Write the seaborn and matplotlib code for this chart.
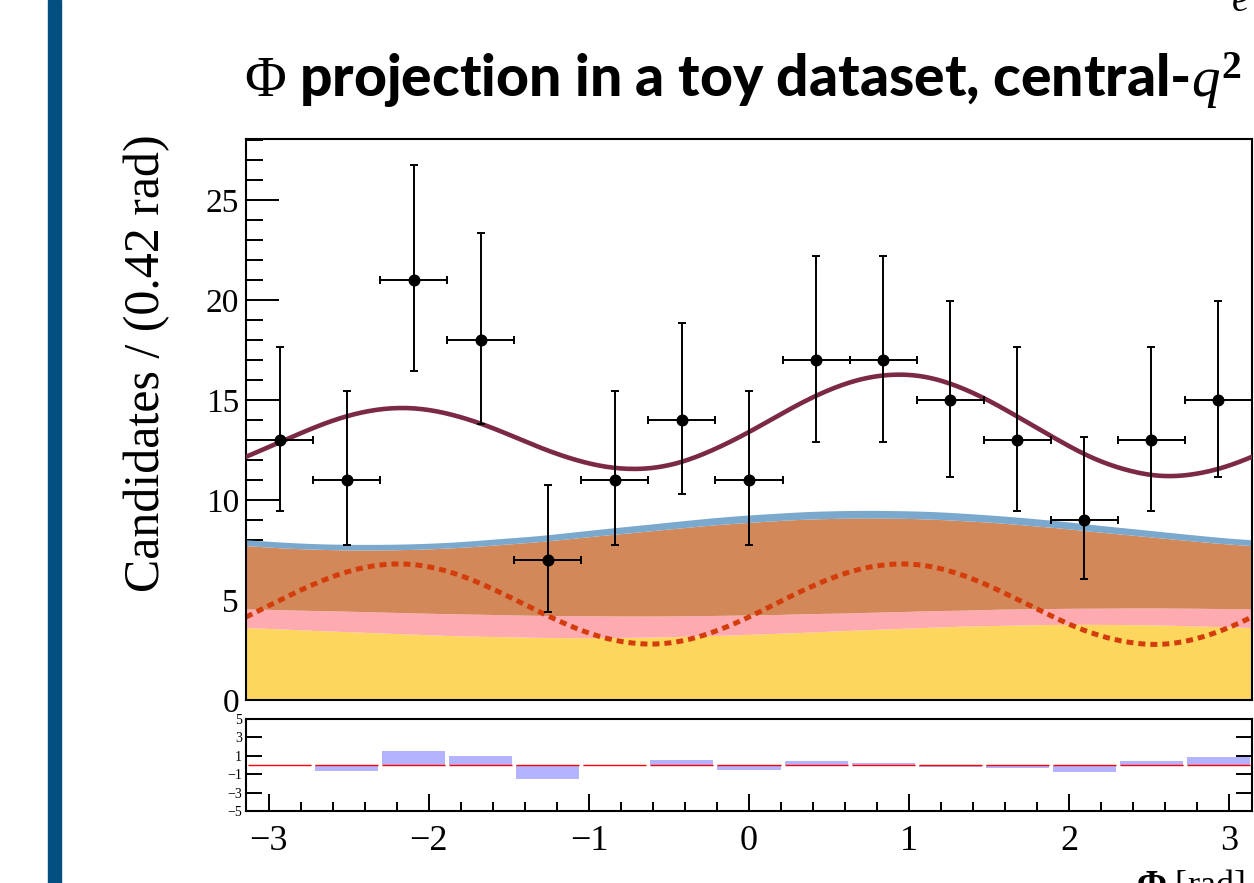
import numpy as np
import pandas as pd
import matplotlib
matplotlib.use("Agg")
import matplotlib.pyplot as plt
from matplotlib.patches import Rectangle
from matplotlib.ticker import MultipleLocator, FixedLocator
import seaborn as sns

# ---------------------------------------------------------------------------
# Binned toy data: 15 bins over [-pi, pi]
# ---------------------------------------------------------------------------
counts = [13, 11, 21, 18, 7, 11, 14, 11, 17, 17, 15, 13, 9, 13, 15]
err_low = [3.57, 3.27, 4.56, 4.21, 2.58, 3.27, 3.71, 3.27, 4.09, 4.09,
           3.83, 3.57, 2.94, 3.57, 3.83]
err_high = [4.67, 4.44, 5.73, 5.35, 3.77, 4.44, 4.83, 4.44, 5.22, 5.22,
            4.96, 4.67, 4.13, 4.67, 4.96]
pulls = [0.02, -0.70, 1.47, 1.03, -1.50, -0.15, 0.59, -0.50, 0.48, 0.18,
         -0.18, -0.30, -0.80, 0.48, 0.92]

# ---------------------------------------------------------------------------
# Fit components, sampled at 33 equally spaced points from -pi to pi
# ---------------------------------------------------------------------------
comp_combinatorial = [3.62, 3.56, 3.49, 3.43, 3.37, 3.31, 3.25, 3.20, 3.17, 3.14,
                      3.12, 3.12, 3.13, 3.15, 3.19, 3.23, 3.28, 3.34, 3.40, 3.47,
                      3.53, 3.59, 3.65, 3.70, 3.73, 3.76, 3.78, 3.78, 3.77, 3.75,
                      3.71, 3.67, 3.62]
comp_partreco = [0.93, 0.96, 0.99, 1.02, 1.04, 1.06, 1.08, 1.10, 1.10, 1.10,
                 1.10, 1.09, 1.07, 1.05, 1.02, 1.00, 0.97, 0.94, 0.92, 0.88,
                 0.86, 0.84, 0.82, 0.80, 0.81, 0.80, 0.80, 0.81, 0.83, 0.85,
                 0.88, 0.90, 0.93]
comp_misid = [3.17, 3.10, 3.07, 3.06, 3.09, 3.15, 3.24, 3.35, 3.49, 3.64,
              3.80, 3.97, 4.13, 4.28, 4.42, 4.54, 4.63, 4.70, 4.73, 4.74,
              4.71, 4.65, 4.56, 4.45, 4.31, 4.16, 4.00, 3.83, 3.67, 3.52,
              3.38, 3.26, 3.17]
comp_other = [0.29, 0.29, 0.28, 0.28, 0.28, 0.28, 0.28, 0.29, 0.30, 0.30,
              0.31, 0.32, 0.33, 0.34, 0.35, 0.36, 0.37, 0.37, 0.38, 0.38,
              0.38, 0.38, 0.38, 0.37, 0.36, 0.36, 0.35, 0.34, 0.33, 0.32,
              0.31, 0.30, 0.29]
comp_signal = [4.15, 4.93, 5.68, 6.30, 6.69, 6.80, 6.60, 6.12, 5.44, 4.67,
               3.92, 3.30, 2.91, 2.80, 3.00, 3.48, 4.15, 4.93, 5.68, 6.30,
               6.69, 6.80, 6.60, 6.12, 5.44, 4.67, 3.92, 3.30, 2.91, 2.78,
               2.98, 3.46, 4.15]

pull_ticks = [-5, -3, -1, 1, 3, 5]

# ---------------------------------------------------------------------------
# Styling
# ---------------------------------------------------------------------------
sns.set_style("white")
plt.rcParams["font.family"] = ["Liberation Serif", "DejaVu Serif"]
plt.rcParams["mathtext.fontset"] = "custom"
plt.rcParams["mathtext.rm"] = "Liberation Serif"
plt.rcParams["mathtext.it"] = "Liberation Serif:italic"
plt.rcParams["mathtext.bf"] = "Liberation Serif:bold"
plt.rcParams["axes.unicode_minus"] = True
for key in ("text.color", "axes.labelcolor", "xtick.color", "ytick.color",
            "axes.edgecolor"):
    plt.rcParams[key] = "black"

col_comb = "#fdd65e"
col_part = "#fdabb1"
col_misid = "#d3885a"
col_other = "#7ba8cd"
col_total = "#7b2946"
col_signal = "#d33c0b"
col_pull = "#b3b3ff"

W, H = 1254, 883
fig = plt.figure(figsize=(W / 100, H / 100), dpi=100)
fig.patch.set_facecolor("white")


def fx(px):
    return px / W


def fy(py):
    return 1 - py / H


def smooth_periodic(values, n_out=400):
    """Band-limited (Fourier) resampling of a periodic curve for display."""
    v = np.asarray(values, dtype=float)[:-1]
    n = len(v)
    spec = np.fft.rfft(v)
    dense = np.fft.irfft(spec, n_out) * (n_out / n)
    dense = np.append(dense, dense[0])
    return np.linspace(-np.pi, np.pi, n_out + 1), dense


ax = fig.add_axes([fx(246), fy(700), fx(1252) - fx(246), fy(139) - fy(700)])
ax2 = fig.add_axes([fx(246), fy(811), fx(1252) - fx(246), fy(719) - fy(811)])

# Slide accent bar
fig.patches.append(Rectangle((fx(48), 0), fx(13), 1, transform=fig.transFigure,
                             color="#034f80", zorder=0))

# ---------------------------------------------------------------------------
# Main panel
# ---------------------------------------------------------------------------
layers = [comp_combinatorial, comp_partreco, comp_misid, comp_other]
colors = [col_comb, col_part, col_misid, col_other]
phi_d, _ = smooth_periodic(np.zeros(len(comp_signal)))
stack = np.zeros(len(comp_signal))
for vals, c in zip(layers, colors):
    lower = smooth_periodic(stack)[1]
    stack = stack + np.asarray(vals)
    upper = smooth_periodic(stack)[1]
    ax.fill_between(phi_d, lower, upper, color=c, linewidth=0, zorder=1)
total = stack + np.asarray(comp_signal)

_, sig_d = smooth_periodic(comp_signal)
_, tot_d = smooth_periodic(total)
sns.lineplot(x=phi_d, y=sig_d, ax=ax, color=col_signal, linewidth=3.6,
             linestyle=(0, (1.4, 1.0)), zorder=2)
sns.lineplot(x=phi_d, y=tot_d, ax=ax, color=col_total, linewidth=3.3, zorder=3)

nbins = len(counts)
binw = 2 * np.pi / nbins
centers = -np.pi + (np.arange(nbins) + 0.5) * binw

ax.errorbar(centers, counts, yerr=[err_low, err_high], xerr=binw / 2, fmt="none",
            ecolor="black", elinewidth=1.4, capsize=2.6, capthick=1.4, zorder=4)
sns.scatterplot(x=centers, y=counts, ax=ax, s=75, color="black", linewidth=0,
                zorder=5)

ax.set_xlim(-np.pi, np.pi)
ax.set_ylim(0, 28.05)
ax.xaxis.set_major_locator(MultipleLocator(1))
ax.xaxis.set_minor_locator(MultipleLocator(0.2))
ax.yaxis.set_major_locator(MultipleLocator(5))
ax.yaxis.set_minor_locator(MultipleLocator(1))
ax.tick_params(axis="y", which="major", direction="in", length=24, width=1.4,
               labelsize=24, pad=5, left=True, right=False)
ax.tick_params(axis="y", which="minor", direction="in", length=12, width=1.4,
               left=True, right=False)
ax.tick_params(axis="x", which="major", direction="in", length=11, width=1.4,
               labelbottom=False, bottom=True, top=False)
ax.tick_params(axis="x", which="minor", direction="in", length=5, width=1.4,
               bottom=True, top=False)
ax.set_xlabel("")
ax.set_ylabel("")
for s in ax.spines.values():
    s.set_linewidth(1.5)
    s.set_color("black")

# ---------------------------------------------------------------------------
# Pull panel
# ---------------------------------------------------------------------------
df_pull = pd.DataFrame({"phi": centers, "pull": pulls})
sns.barplot(data=df_pull, x="phi", y="pull", native_scale=True, width=0.94,
            color=col_pull, saturation=1, errorbar=None, linewidth=0, ax=ax2,
            zorder=1)
ax2.hlines(np.zeros(nbins), centers - 0.47 * binw, centers + 0.47 * binw,
           color="red", linewidth=1.0, zorder=2)
ax2.set_xlim(-np.pi, np.pi)
ax2.set_ylim(-5, 5)
ax2.yaxis.set_major_locator(FixedLocator(pull_ticks))
ax2.xaxis.set_major_locator(MultipleLocator(1))
ax2.xaxis.set_minor_locator(MultipleLocator(0.2))
ax2.tick_params(axis="y", which="major", direction="in", length=11.5, width=1.4,
                labelsize=10, pad=3, left=True, right=True)
ax2.tick_params(axis="x", which="major", direction="in", length=12, width=1.4,
                labelsize=26, pad=10, bottom=True, top=False)
ax2.tick_params(axis="x", which="minor", direction="in", length=6.5, width=1.4,
                bottom=True, top=False)
ax2.set_xlabel("")
ax2.set_ylabel("")
for s in ax2.spines.values():
    s.set_linewidth(1.5)
    s.set_color("black")

# ---------------------------------------------------------------------------
# Text
# ---------------------------------------------------------------------------
fig.text(fx(147), fy(363), "Candidates / (0.42 rad)", rotation=90,
         ha="center", va="center", fontsize=36, family="Liberation Serif",
         fontweight="normal")
fig.text(fx(1244), fy(868), r"$\mathbf{\Phi}$ [rad]", ha="right", va="top",
         fontsize=26, family="Liberation Serif")
fig.text(fx(743), fy(97), r"$\Phi$ projection in a toy dataset, central-$q^{\mathbf{2}}$",
         ha="center", va="baseline", fontsize=41, fontweight="black",
         family=["Lato", "DejaVu Sans"])
fig.text(fx(1240), fy(11), r"$e$", ha="center", va="baseline", fontsize=28,
         family="Liberation Serif")

fig.savefig("out.png", dpi=100, facecolor="white")
